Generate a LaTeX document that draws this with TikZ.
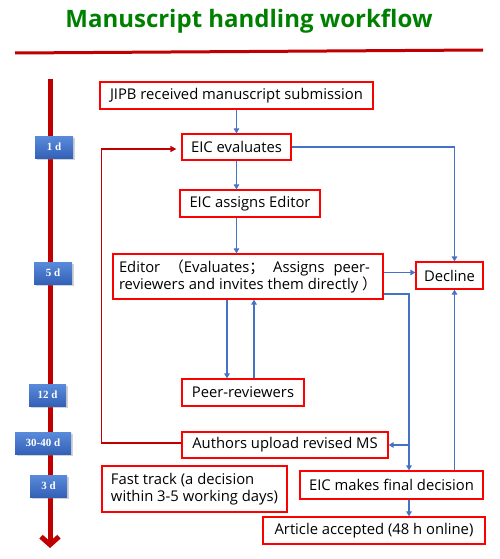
\documentclass[tikz,border=0pt]{standalone}
\usepackage{fontspec}
\setmainfont{Open Sans}
\newfontfamily\cjk{Noto Sans CJK SC}
\newfontfamily\dayfont{Liberation Serif}
\usepackage{xcolor}
\usepackage{tikz}
\usetikzlibrary{
    calc,
    arrows.meta,
    shadows
}
\definecolor{boxred}{HTML}{FF0000}
\definecolor{darkred}{HTML}{C00000}
\definecolor{flowblue}{HTML}{4472C4}
\definecolor{daytop}{HTML}{5A8BDA}
\definecolor{daybot}{HTML}{3461B8}
\definecolor{titlegreen}{HTML}{008000}
\tikzset{
    box/.style={draw=boxred, line width=1.2pt, fill=white, inner sep=0pt,
        font=\fontsize{14.8}{17}\selectfont},
    daybox/.style={top color=daytop, bottom color=daybot, draw=none,
        minimum height=22pt, inner sep=0pt, text=white,
        font=\dayfont\bfseries\fontsize{11}{13}\selectfont,
        drop shadow={opacity=0.35, shadow xshift=1.5pt, shadow yshift=-1.5pt}},
    flow/.style={draw=flowblue, line width=1.8pt, -{Triangle[length=5pt,width=5.5pt]}},
    back/.style={draw=darkred, line width=1.8pt, -{Triangle[length=6pt,width=6pt]}, shorten >=5pt},
    timeline/.style={draw=darkred, line width=5pt, -{Straight Barb[length=8pt,width=18pt]}}
}

\begin{document}
\begin{tikzpicture}[x=1pt, y=-1pt]
        \useasboundingbox (0,0) rectangle (500,559);

        % title
        \draw (249,21) node[text=titlegreen, font=\bfseries\fontsize{24}{27}\selectfont](title){Manuscript handling workflow};
        \coordinate (rulel) at (15,53);
        \coordinate (ruler) at (483,50);
        \draw[darkred, line width=3pt] (rulel) -- (ruler);

        % time axis
        \coordinate (tstart) at (50,79);
        \coordinate (tend) at (50,548);
        \draw[timeline] (tstart) -- (tend);
        \draw (54,147) node[daybox, minimum width=38pt](d1){1 d};
        \draw (53,273) node[daybox, minimum width=38pt](d5){5 d};
        \draw (47.5,395) node[daybox, minimum width=37pt](d12){12 d};
        \draw (43,443) node[daybox, minimum width=56pt](d30){30-40 d};
        \draw (48.5,486) node[daybox, minimum width=37pt](d3){3 d};

        % steps
        \draw (236.5,95.5) node[box, minimum width=273pt, minimum height=27pt](jipb){JIPB received manuscript submission};
        \draw (236.5,147) node[box, minimum width=109pt, minimum height=26pt](eval){EIC evaluates};
        \draw (250,203.5) node[box, minimum width=140pt, minimum height=27pt](assign){EIC assigns Editor};
        \draw (248,276.5) node[box, minimum width=270pt, minimum height=45pt, align=left](editor){%
            \makebox[251pt][s]{Editor {\cjk （}Evaluates{\cjk ；} Assigns peer-}\\
            \makebox[258pt][s]{reviewers and invites them directly {\cjk ）}}};
        \draw (449.5,275.5) node[box, minimum width=67pt, minimum height=27pt](decline){Decline};
        \draw (243,392.5) node[box, minimum width=122pt, minimum height=27pt](peer){Peer-reviewers};
        \draw (285,445) node[box, minimum width=206pt, minimum height=26pt](authors){Authors upload revised MS};
        \draw (194.5,489) node[box, minimum width=185pt, minimum height=46pt, align=left](fast){Fast track (a decision\\within 3-5 working days)};
        \draw (391.5,485) node[box, minimum width=183pt, minimum height=28pt](final){EIC makes final decision};
        \draw (374,530.5) node[box, minimum width=222pt, minimum height=27pt](accepted){Article accepted (48 h online)};

        \coordinate (split) at (409,445);

        % connectors
        \draw[flow] (jipb.south -| eval) to (eval.north);
        \draw[flow] (eval) to (eval |- assign.north);
        \draw[flow] (assign.south -| eval) to (editor.north -| eval);
        \draw[flow] (eval.east) -| ([xshift=5pt]decline.north);
        \draw[flow] ([xshift=-21pt]editor.south) to ([xshift=-21pt]editor.south |- peer.north);
        \draw[flow] ([xshift=11pt]peer.north) to ([xshift=11pt]peer.north |- editor.south);
        \draw[flow] ([yshift=4pt]editor.east) to ([yshift=4pt]editor.east -| decline.west);
        \draw[flow] ([yshift=-17.5pt]editor.east) -| (split |- final.north);
        \draw[flow] (split) to (authors);
        \draw[flow] ([xshift=5pt]decline.south |- final.north) to ([xshift=5pt]decline.south);
        \draw[flow] (final.south -| split) to (accepted.north -| split);
        \draw[back] ([yshift=2pt]authors.west) -| ([xshift=-80pt,yshift=-2pt]eval.west) to ([yshift=-2pt]eval.west);
    \end{tikzpicture}
\end{document}
